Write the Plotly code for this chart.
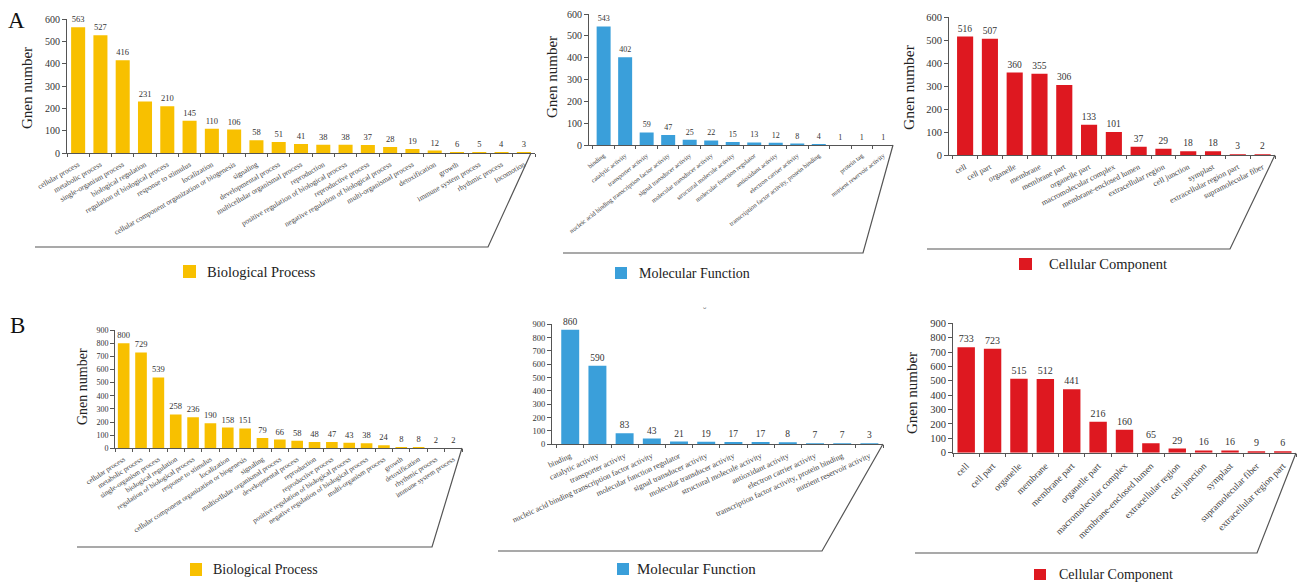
import plotly.graph_objects as go

W, H = 1301, 588

# ---------------- data ----------------
a_bp_terms = ["cellular process", "metabolic process", "single-organism process", "biological regulation",
              "regulation of biological process", "response to stimulus", "localization",
              "cellular component organization or biogenesis", "signaling", "developmental process",
              "multicellular organismal process", "reproduction", "positive regulation of biological process",
              "reproductive process", "negative regulation of biological process", "multi-organismal process",
              "detoxification", "growth", "immune system process", "rhythmic process", "locomotion"]
a_bp_counts = [563, 527, 416, 231, 210, 145, 110, 106, 58, 51, 41, 38, 38, 37, 28, 19, 12, 6, 5, 4, 3]

a_mf_terms = ["binding", "catalytic activity", "transporter activity",
              "nucleic acid binding transcription factor activity", "signal transducer activity",
              "molecular transducer activity", "structural molecule activity", "molecular function regulator",
              "antioxidant activity", "electron carrier activity",
              "transcription factor activity, protein binding", "", "protein tag", "nutrient reservoir activity"]
a_mf_counts = [543, 402, 59, 47, 25, 22, 15, 13, 12, 8, 4, 1, 1, 1]

a_cc_terms = ["cell", "cell part", "organelle", "membrane", "membrane part", "organelle part",
              "macromolecular complex", "membrane-enclosed lumen", "extracellular region", "cell junction",
              "symplast", "extracellular region part", "supramolecular fiber"]
a_cc_counts = [516, 507, 360, 355, 306, 133, 101, 37, 29, 18, 18, 3, 2]

b_bp_terms = ["cellular process", "metabolic process", "single-organism process", "biological regulation",
              "regulation of biological process", "response to stimulus", "localization",
              "cellular component organization or biogenesis", "signaling", "multicellular organismal process",
              "developmental process", "reproduction", "reproductive process",
              "positive regulation of biological process", "negative regulation of biological process",
              "multi-organism process", "growth", "detoxification", "rhythmic process", "immune system process"]
b_bp_counts = [800, 729, 539, 258, 236, 190, 158, 151, 79, 66, 58, 48, 47, 43, 38, 24, 8, 8, 2, 2]

b_mf_terms = ["binding", "catalytic activity", "transporter activity",
              "nucleic acid binding transcription factor activity", "molecular function regulator",
              "signal transducer activity", "molecular transducer activity", "structural molecule activity",
              "antioxidant activity", "electron carrier activity",
              "transcription factor activity, protein binding", "nutrient reservoir activity"]
b_mf_counts = [860, 590, 83, 43, 21, 19, 17, 17, 8, 7, 7, 3]

b_cc_terms = ["cell", "cell part", "organelle", "membrane", "membrane part", "organelle part",
              "macromolecular complex", "membrane-enclosed lumen", "extracellular region", "cell junction",
              "symplast", "supramolecular fiber", "extracellular region part"]
b_cc_counts = [733, 723, 515, 512, 441, 216, 160, 65, 29, 16, 16, 9, 6]

y_title = "Gnen number"
panel_letters = ["A", "B"]
legend_names = ["Biological Process", "Molecular Function", "Cellular Component"]

# ---------------- styling / layout ----------------
YELLOW = "#F8C000"
BLUE = "#3A9FDA"
RED = "#DE1820"
FONT = "Liberation Serif, Times New Roman, DejaVu Serif, serif"
LINE = "#555555"
TXT = "#333333"


def px(x):
    return x / W


def py(y):
    return 1 - y / H


panels = [
    dict(terms=a_bp_terms, counts=a_bp_counts, color=YELLOW, name=legend_names[0],
         x0=67, x1=535, ytop=19, ybot=153.3, ymax=600, xr=(-0.5, 20.5), bw=0.63, angle=-30,
         tf=7.5, ytf=10, vf=8.5, title=(27, 88, 15),
         frame=[(35, 247), (488, 247), (531, 153)], leg=(183, 265, 13, 13, 205, 14.5)),
    dict(terms=a_mf_terms, counts=a_mf_counts, color=BLUE, name=legend_names[1],
         x0=589, x1=893, ytop=14, ybot=145.3, ymax=600, xr=(-0.68, 13.45), bw=0.65, angle=-38,
         tf=6.5, ytf=10, vf=8, title=(552, 77, 15),
         frame=[(563, 253), (863, 253), (893, 145)], leg=(615, 267, 12, 12, 637, 14)),
    dict(terms=a_cc_terms, counts=a_cc_counts, color=RED, name=legend_names[2],
         x0=949, x1=1275, ytop=17.3, ybot=155.3, ymax=600, xr=(-0.65, 12.5), bw=0.65, angle=-27,
         tf=8, ytf=10.5, vf=9.5, title=(908, 87, 15.5),
         frame=[(927, 249), (1230, 249), (1275, 155)], leg=(1019, 258, 13, 12, 1047, 14.5)),
    dict(terms=b_bp_terms, counts=b_bp_counts, color=YELLOW, name=legend_names[0],
         x0=115, x1=462, ytop=330, ybot=448.3, ymax=900, xr=(-0.5, 19.5), bw=0.67, angle=-33,
         tf=7.2, ytf=8, vf=8.5, title=(82, 387, 14),
         frame=[(77, 547), (432, 547), (462, 448)], leg=(190, 563, 12, 13, 211, 14)),
    dict(terms=b_mf_terms, counts=b_mf_counts, color=BLUE, name=legend_names[1],
         x0=552, x1=883, ytop=324.3, ybot=444.3, ymax=900, xr=(-0.67, 11.5), bw=0.66, angle=-25,
         tf=8, ytf=8.5, vf=9.5, title=None,
         frame=[(498, 551), (822, 551), (883, 444)], leg=(617, 563, 12, 12, 635, 15)),
    dict(terms=b_cc_terms, counts=b_cc_counts, color=RED, name=legend_names[2],
         x0=953, x1=1296, ytop=323.3, ybot=452.7, ymax=900, xr=(-0.5, 12.5), bw=0.66, angle=-45,
         tf=9.5, ytf=10.5, vf=10, title=(912, 393, 15),
         frame=[(915, 553), (1257, 553), (1296, 453)], leg=(1034, 569, 12, 11, 1057, 14)),
]

fig = go.Figure()
shapes = []
annotations = []
layout_axes = {}

for i, p in enumerate(panels):
    k = i + 1
    xa = "x" if k == 1 else f"x{k}"
    ya = "y" if k == 1 else f"y{k}"
    n = len(p["terms"])
    idx = list(range(n))
    fig.add_trace(go.Bar(
        x=idx, y=p["counts"], xaxis=xa, yaxis=ya, name=p["name"],
        marker=dict(color=p["color"], line=dict(width=0)), width=p["bw"],
        text=[str(v) for v in p["counts"]], textposition="outside",
        textfont=dict(family=FONT, size=p["vf"], color=TXT),
        constraintext="none", cliponaxis=False, showlegend=False,
        customdata=p["terms"], hovertemplate="%{customdata}: %{y}<extra></extra>",
    ))
    xkey = "xaxis" if k == 1 else f"xaxis{k}"
    ykey = "yaxis" if k == 1 else f"yaxis{k}"
    layout_axes[xkey] = dict(
        domain=[px(p["x0"]), px(p["x1"])], anchor=ya, range=list(p["xr"]), automargin=False,
        tickmode="array", tickvals=idx, ticktext=p["terms"], tickangle=p["angle"],
        tickfont=dict(family=FONT, size=p["tf"], color="#444"),
        ticks="outside", ticklen=3, tickcolor="rgba(0,0,0,0)",
        minor=dict(tickmode="array", tickvals=[j - 0.5 for j in range(n + 1)],
                   ticks="outside", ticklen=3, tickcolor=LINE, tickwidth=1),
        showline=True, linecolor=LINE, linewidth=1, showgrid=False, zeroline=False, fixedrange=True,
    )
    layout_axes[ykey] = dict(
        domain=[py(p["ybot"]), py(p["ytop"])], anchor=xa, range=[0, p["ymax"]], automargin=False,
        tickmode="linear", tick0=0, dtick=100, ticks="outside", ticklen=4, tickcolor=LINE,
        tickfont=dict(family=FONT, size=p["ytf"], color=TXT),
        showline=True, linecolor=LINE, linewidth=1, showgrid=False, zeroline=False, fixedrange=True,
    )
    # frame lines
    (ax0, ay0), (ax1, ay1), (ax2, ay2) = p["frame"]
    shapes.append(dict(type="path", xref="paper", yref="paper",
                       path=f"M {px(ax0)},{py(ay0)} L {px(ax1)},{py(ay1)} L {px(ax2)},{py(ay2)}",
                       line=dict(color=LINE, width=1.2)))
    # legend
    lx, ly, lw, lh, tx, fs = p["leg"]
    shapes.append(dict(type="rect", xref="paper", yref="paper",
                       x0=px(lx), x1=px(lx + lw), y0=py(ly + lh), y1=py(ly),
                       fillcolor=p["color"], line=dict(width=0)))
    annotations.append(dict(xref="paper", yref="paper", x=px(tx), y=py(ly + lh / 2),
                            xanchor="left", yanchor="middle", showarrow=False, text=p["name"],
                            font=dict(family=FONT, size=fs, color="#222")))
    # y title
    if p["title"]:
        tx_, ty_, tfs = p["title"]
        annotations.append(dict(xref="paper", yref="paper", x=px(tx_), y=py(ty_),
                                xanchor="center", yanchor="middle", showarrow=False, text=y_title,
                                textangle=-90, font=dict(family=FONT, size=tfs, color="#222")))

annotations.append(dict(xref="paper", yref="paper", x=px(16), y=py(20), xanchor="center",
                        yanchor="middle", showarrow=False,
                        text=panel_letters[0], font=dict(family=FONT, size=23, color="#111")))
annotations.append(dict(xref="paper", yref="paper", x=px(17), y=py(326), xanchor="center",
                        yanchor="middle", showarrow=False,
                        text=panel_letters[1], font=dict(family=FONT, size=23, color="#111")))
annotations.append(dict(xref="paper", yref="paper", x=px(705), y=py(311), xanchor="center",
                        yanchor="middle", showarrow=False,
                        text="\u02D8", font=dict(family=FONT, size=10, color="#666")))

fig.update_layout(
    width=W, height=H, autosize=False,
    margin=dict(l=0, r=0, t=0, b=0, pad=0, autoexpand=False),
    paper_bgcolor="white", plot_bgcolor="white",
    shapes=shapes, annotations=annotations, showlegend=False,
    font=dict(family=FONT, color=TXT),
    **layout_axes,
)

fig.write_html("out.html")
